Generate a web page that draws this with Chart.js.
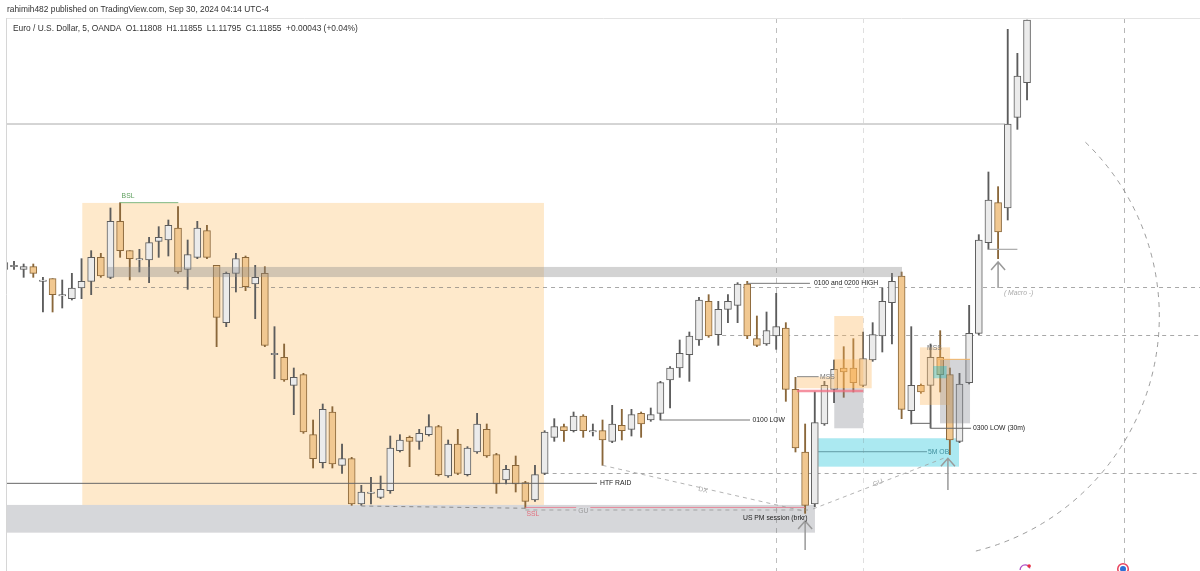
<!DOCTYPE html>
<html><head><meta charset="utf-8">
<script src="https://cdn.jsdelivr.net/npm/chart.js@4.4.1/dist/chart.umd.min.js"></script>
<style>
html,body{margin:0;padding:0;background:#fff;overflow:hidden}
#wrap{position:relative;width:1200px;height:571px}
canvas{position:absolute;left:0;top:0}
.hdr{position:absolute;font-family:"Liberation Sans",Arial,sans-serif;color:#333;white-space:pre;font-size:8.4px;line-height:10px}
</style></head><body>
<div id="wrap">
<canvas id="c" width="1200" height="571"></canvas>
<div class="hdr" style="left:7px;top:4px">rahimih482 published on TradingView.com, Sep 30, 2024 04:14 UTC-4</div>
<div class="hdr" style="left:13px;top:23px">Euro / U.S. Dollar, 5, OANDA  O1.11808  H1.11855  L1.11795  C1.11855  +0.00043 (+0.04%)</div>
</div>
<script>
// ---- data: EUR/USD 5m candles (index = bar number) ----
const opens = [1.11668,1.11670,1.11668,1.11670,1.11659,1.11661,1.11648,1.11646,1.11654,1.11659,
1.11677,1.11662,1.11704,1.11682,1.11675,1.11675,1.11689,1.11690,1.11699,1.11668,
1.11677,1.11697,1.11671,1.11628,1.11665,1.11677,1.11657,1.11665,1.11604,1.11602,
1.11581,1.11589,1.11544,1.11523,1.11561,1.11521,1.11526,1.11492,1.11500,1.11497,
1.11502,1.11532,1.11542,1.11539,1.11544,1.11550,1.11513,1.11537,1.11514,1.11531,
1.11548,1.11529,1.11510,1.11521,1.11508,1.11495,1.11515,1.11542,1.11550,1.11547,
1.11558,1.11546,1.11547,1.11539,1.11551,1.11548,1.11560,1.11555,1.11560,1.11585,
1.11594,1.11604,1.11615,1.11644,1.11619,1.11638,1.11641,1.11657,1.11616,1.11612,
1.11618,1.11624,1.11578,1.11531,1.11492,1.11552,1.11578,1.11594,1.11594,1.11581,
1.11600,1.11618,1.11643,1.11663,1.11562,1.11581,1.11581,1.11602,1.11589,1.11539,
1.11583,1.11620,1.11688,1.11718,1.11714,1.11782,1.11808];
const highs = [1.11676,1.11674,1.11672,1.11672,1.11662,1.11661,1.11660,1.11665,1.11676,1.11682,
1.11680,1.11714,1.11718,1.11682,1.11683,1.11692,1.11700,1.11705,1.11715,1.11690,
1.11704,1.11701,1.11671,1.11666,1.11680,1.11678,1.11671,1.11670,1.11625,1.11612,
1.11594,1.11590,1.11555,1.11567,1.11565,1.11537,1.11527,1.11506,1.11512,1.11513,
1.11543,1.11544,1.11543,1.11548,1.11559,1.11551,1.11540,1.11548,1.11535,1.11560,
1.11552,1.11530,1.11521,1.11528,1.11509,1.11521,1.11547,1.11556,1.11552,1.11561,
1.11559,1.11552,1.11555,1.11566,1.11563,1.11563,1.11561,1.11564,1.11584,1.11595,
1.11615,1.11621,1.11647,1.11649,1.11644,1.11649,1.11658,1.11659,1.11633,1.11636,
1.11650,1.11628,1.11587,1.11552,1.11576,1.11584,1.11600,1.11610,1.11616,1.11621,
1.11628,1.11654,1.11665,1.11666,1.11625,1.11582,1.11612,1.11622,1.11594,1.11590,
1.11641,1.11694,1.11741,1.11730,1.11848,1.11830,1.11855];
const lows = [1.11664,1.11668,1.11662,1.11662,1.11636,1.11636,1.11639,1.11645,1.11646,1.11649,
1.11662,1.11661,1.11677,1.11660,1.11666,1.11658,1.11677,1.11678,1.11665,1.11653,
1.11676,1.11676,1.11610,1.11625,1.11651,1.11652,1.11631,1.11610,1.11586,1.11584,
1.11559,1.11545,1.11519,1.11519,1.11519,1.11515,1.11491,1.11491,1.11492,1.11496,
1.11500,1.11531,1.11520,1.11533,1.11543,1.11513,1.11512,1.11514,1.11513,1.11530,
1.11527,1.11500,1.11507,1.11501,1.11489,1.11494,1.11514,1.11539,1.11539,1.11546,
1.11542,1.11543,1.11521,1.11538,1.11540,1.11543,1.11542,1.11554,1.11555,1.11564,
1.11587,1.11584,1.11611,1.11617,1.11611,1.11628,1.11628,1.11616,1.11610,1.11611,
1.11608,1.11569,1.11531,1.11485,1.11490,1.11551,1.11568,1.11572,1.11576,1.11580,
1.11599,1.11606,1.11612,1.11556,1.11552,1.11575,1.11549,1.11576,1.11529,1.11538,
1.11582,1.11619,1.11683,1.11676,1.11705,1.11773,1.11795];
const closes = [1.11673,1.11671,1.11670,1.11665,1.11660,1.11649,1.11649,1.11654,1.11659,1.11677,
1.11663,1.11704,1.11682,1.11676,1.11676,1.11688,1.11692,1.11701,1.11666,1.11679,
1.11699,1.11677,1.11632,1.11665,1.11676,1.11655,1.11662,1.11611,1.11605,1.11585,
1.11587,1.11546,1.11526,1.11563,1.11522,1.11526,1.11492,1.11501,1.11501,1.11503,
1.11534,1.11540,1.11539,1.11545,1.11550,1.11514,1.11537,1.11515,1.11534,1.11552,
1.11528,1.11507,1.11518,1.11507,1.11494,1.11514,1.11546,1.11550,1.11547,1.11558,
1.11547,1.11547,1.11540,1.11552,1.11547,1.11559,1.11552,1.11559,1.11583,1.11594,
1.11605,1.11618,1.11645,1.11618,1.11638,1.11644,1.11657,1.11618,1.11611,1.11622,
1.11625,1.11578,1.11534,1.11491,1.11553,1.11581,1.11593,1.11591,1.11583,1.11601,
1.11619,1.11644,1.11659,1.11563,1.11581,1.11576,1.11602,1.11589,1.11540,1.11582,
1.11620,1.11690,1.11720,1.11696,1.11777,1.11813,1.11855];
const bars = opens.map((_, i) => i);

// ---- drawings (in bar-index / price coordinates) ----
const rangeBox   = {x0: 8.08,  x1: 55.93, lo: 1.114913, hi: 1.117178};
const pmBand     = {x0: -2,    x1: 84.02, lo: 1.114705, hi: 1.114913};
const obBox      = {x0: 84.37, x1: 98.95, lo: 1.115200, hi: 1.115413, mid: 1.115312, midEnd: 95.63};
const highBand   = {x0: 10.7,  x1: 93.04, lo: 1.116622, hi: 1.116698};
const mssBoxes = [
  {x0: 86.02, x1: 89.03, lo: 1.115788, hi: 1.116330, kind: 'orange'},
  {x0: 86.02, x1: 89.90, lo: 1.115788, hi: 1.116005, kind: 'orange'},
  {x0: 82.16, x1: 86.02, lo: 1.115788, hi: 1.115875, kind: 'orange'},
  {x0: 86.02, x1: 89.03, lo: 1.115488, hi: 1.115788, kind: 'gray'},
  {x0: 94.90, x1: 98.02, lo: 1.115663, hi: 1.116095, kind: 'orange'},
  {x0: 96.98, x1: 100.09, lo: 1.115525, hi: 1.116005, kind: 'gray'},
  {x0: 96.28, x1: 97.67, lo: 1.115863, hi: 1.115955, kind: 'teal'}
];
const vDashed = [{x: 80, a: 0.45}, {x: 89, a: 0.22}, {x: 116, a: 0.5}];
const hDashed = [
  {x0: 9.4,  x1: 130, y: 1.116545},
  {x0: 74.4, x1: 130, y: 1.116191},
  {x0: 56.0, x1: 130, y: 1.115156}
];
const solidLines = [
  {pts: [[-2, 1.115075], [61.43, 1.115075]], color: '#666', w: 1},
  {pts: [[-2, 1.11777], [103.72, 1.11777]], color: '#aaa', w: 1},
  {pts: [[12, 1.11718], [18.03, 1.11718]], color: '#7fb77f', w: 1},
  {pts: [[77, 1.116575], [83.5, 1.116575]], color: '#777', w: 1},
  {pts: [[68, 1.11555], [77.29, 1.11555]], color: '#777', w: 1},
  {pts: [[82.16, 1.115875], [84.4, 1.115875]], color: '#888', w: 1},
  {pts: [[82.16, 1.115768], [89.03, 1.115768]], color: 'rgba(242,110,130,0.75)', w: 2.5},
  {pts: [[54, 1.114894], [83, 1.114894]], color: 'rgba(235,120,140,0.8)', w: 1},
  {pts: [[96.64, 1.116005], [100.09, 1.116005]], color: '#f0b266', w: 1},
  {pts: [[94, 1.115525], [96, 1.115525], [96, 1.115488], [100.2, 1.115488]], color: '#666', w: 1},
  {pts: [[102, 1.11683], [105, 1.11683]], color: '#aaa', w: 1.2}
];
const dashedDiag = [
  {pts: [[37, 1.114905], [54, 1.114888]], color: 'rgba(120,120,120,0.8)'},
  {pts: [[54, 1.114875], [83.3, 1.114875]], color: 'rgba(150,150,150,0.8)'},
  {pts: [[62, 1.11521], [82.78, 1.114868]], color: 'rgba(160,160,160,0.8)', name: 'dx'},
  {pts: [[83.82, 1.114883], [97.7, 1.115273]], color: 'rgba(160,160,160,0.8)', name: 'gu'}
];
const arrows = [
  {x: 83,    tip: 1.114793, tail: 1.114575},
  {x: 97.8,  tip: 1.115263, tail: 1.115025},
  {x: 103,   tip: 1.116735, tail: 1.116540}
];
const arc = {x: 94.63, y: 1.116328, rx: 25.08, a0: -46, a1: 76};
const labels = [
  {t: 'BSL', x: 12.82, y: 1.11723, c: '#5c9e5c', align: 'center'},
  {t: 'HTF RAID', x: 61.74, y: 1.115077, c: '#222'},
  {t: 'SSL', x: 54.79, y: 1.114845, c: '#e2707e', align: 'center'},
  {t: 'GU', x: 60, y: 1.114868, c: '#9a9a9a', align: 'center', bg: true},
  {t: 'DX', x: 72.41, y: 1.115025, c: '#aaa', align: 'center', rot: 'dx'},
  {t: 'GU', x: 90.55, y: 1.115078, c: '#aaa', align: 'center', rot: 'gu'},
  {t: '0100 and 0200 HIGH', x: 83.92, y: 1.116575, c: '#222'},
  {t: '0100 LOW', x: 77.55, y: 1.11555, c: '#222'},
  {t: 'US PM session (brkr)', x: 76.56, y: 1.114815, c: '#222'},
  {t: 'MSS', x: 84.54, y: 1.115875, c: '#777'},
  {t: 'MSS', x: 95.63, y: 1.11609, c: '#777'},
  {t: '5M OB', x: 95.74, y: 1.115312, c: '#3f8f9c'},
  {t: '0300 LOW (30m)', x: 100.4, y: 1.115488, c: '#222'},
  {t: '( Macro -)', x: 103.6, y: 1.116503, c: '#aaa', italic: true}
];
const icons = [{x: 105.8, y: 1.114448, kind: 'a'}, {x: 115.95, y: 1.114448, kind: 'b'}];

const BULL = {fill: '#ebebeb', line: '#5c5c5c'};
const BEAR = {fill: '#f1c891', line: '#8a673a'};
const isBull = i => closes[i] >= opens[i];

const FONT = '"Liberation Sans", Arial, sans-serif';

function drawDrawings(chart, layer) {
  const ctx = chart.ctx, X = chart.scales.x, Y = chart.scales.y, A = chart.chartArea;
  const px = v => X.getPixelForValue(v), py = v => Y.getPixelForValue(v);
  const rect = (b, fill) => {
    const x0 = Math.max(px(b.x0), A.left), x1 = Math.min(px(b.x1), A.right);
    ctx.fillStyle = fill; ctx.fillRect(x0, py(b.hi), x1 - x0, py(b.lo) - py(b.hi));
  };
  const poly = (pts, color, w, dash) => {
    ctx.beginPath();
    pts.forEach((p, k) => { const x = Math.max(Math.min(px(p[0]), A.right), A.left); const y = py(p[1]); k ? ctx.lineTo(x, y) : ctx.moveTo(x, y); });
    ctx.strokeStyle = color; ctx.lineWidth = w; ctx.setLineDash(dash || []); ctx.stroke(); ctx.setLineDash([]);
  };
  ctx.save();
  if (layer === 'under') {
    rect(rangeBox, 'rgba(251,192,105,0.35)');
    rect(pmBand, 'rgba(120,123,134,0.30)');
    rect(obBox, 'rgba(0,188,212,0.33)');
    vDashed.forEach(v => {
      const x = Math.round(px(v.x)) + 0.5;
      ctx.beginPath(); ctx.moveTo(x, A.top); ctx.lineTo(x, A.bottom);
      ctx.strokeStyle = 'rgba(110,110,110,' + v.a + ')'; ctx.lineWidth = 1; ctx.setLineDash([5, 5]); ctx.stroke(); ctx.setLineDash([]);
    });
    hDashed.forEach(h => {
      const y = Math.round(py(h.y)) + 0.5;
      ctx.beginPath(); ctx.moveTo(px(h.x0), y); ctx.lineTo(Math.min(px(h.x1), A.right), y);
      ctx.strokeStyle = 'rgba(110,110,110,0.6)'; ctx.lineWidth = 1; ctx.setLineDash([4, 4]); ctx.stroke(); ctx.setLineDash([]);
    });
    poly([[obBox.x0, obBox.mid], [obBox.midEnd, obBox.mid]], '#5f9aa5', 1);
  } else {
    rect(highBand, 'rgba(140,140,140,0.38)');
    mssBoxes.forEach(b => rect(b, b.kind === 'orange' ? 'rgba(251,180,90,0.35)' : b.kind === 'gray' ? 'rgba(120,123,134,0.32)' : 'rgba(0,188,212,0.35)'));
    solidLines.forEach(l => poly(l.pts, l.color, l.w));
    const angles = {};
    dashedDiag.forEach(l => {
      poly(l.pts, l.color, 1, [4, 4]);
      if (l.name) angles[l.name] = Math.atan2(py(l.pts[1][1]) - py(l.pts[0][1]), px(l.pts[1][0]) - px(l.pts[0][0]));
    });
    arrows.forEach(a => {
      const x = px(a.x), t = py(a.tip), b = py(a.tail);
      ctx.strokeStyle = '#9a9a9a'; ctx.lineWidth = 1.5;
      ctx.beginPath(); ctx.moveTo(x, b); ctx.lineTo(x, t);
      ctx.moveTo(x - 7, t + 8); ctx.lineTo(x, t); ctx.lineTo(x + 7, t + 8); ctx.stroke();
    });
    // dashed arc
    const cx = px(arc.x), cy = py(arc.y), r = px(arc.x + arc.rx) - cx;
    ctx.beginPath(); ctx.arc(cx, cy, r, arc.a0 * Math.PI / 180, arc.a1 * Math.PI / 180);
    ctx.strokeStyle = 'rgba(140,140,140,0.85)'; ctx.lineWidth = 1; ctx.setLineDash([5, 5]); ctx.stroke(); ctx.setLineDash([]);
    // labels
    labels.forEach(l => {
      ctx.save();
      ctx.font = (l.italic ? 'italic ' : '') + '6.8px ' + FONT;
      ctx.fillStyle = l.c; ctx.textAlign = l.align || 'left'; ctx.textBaseline = 'middle';
      ctx.translate(px(l.x), py(l.y));
      if (l.rot) ctx.rotate(angles[l.rot]);
      if (l.bg) { const w = ctx.measureText(l.t).width; ctx.fillStyle = '#d8d9dd'; ctx.fillRect(-w / 2 - 2, -4, w + 4, 8); ctx.fillStyle = l.c; }
      ctx.fillText(l.t, 0, 0);
      ctx.restore();
    });
    // small icons at bottom edge
    icons.forEach(ic => {
      const x = px(ic.x), y = py(ic.y);
      if (ic.kind === 'b') {
        ctx.beginPath(); ctx.arc(x, y + 2, 6, 0, Math.PI * 2); ctx.fillStyle = '#e8405a'; ctx.fill();
        ctx.beginPath(); ctx.arc(x, y + 2, 4.5, 0, Math.PI * 2); ctx.fillStyle = '#fff'; ctx.fill();
        ctx.beginPath(); ctx.arc(x, y + 2, 3, 0, Math.PI * 2); ctx.fillStyle = '#2d6fd6'; ctx.fill();
      } else {
        ctx.beginPath(); ctx.arc(x, y + 3, 5, Math.PI, Math.PI * 1.9); ctx.strokeStyle = '#b050c8'; ctx.lineWidth = 1.3; ctx.stroke();
        ctx.beginPath(); ctx.arc(x + 4, y - 1, 1.8, 0, Math.PI * 2); ctx.fillStyle = '#e83040'; ctx.fill();
      }
    });
    // panel frame
    ctx.strokeStyle = '#e3e3e3'; ctx.lineWidth = 1;
    ctx.beginPath(); ctx.moveTo(A.left - 0.5, A.top + 0.5); ctx.lineTo(A.right, A.top + 0.5); ctx.stroke();
    ctx.strokeStyle = '#d6d6d6';
    ctx.beginPath(); ctx.moveTo(A.left - 0.5, A.top); ctx.lineTo(A.left - 0.5, A.bottom); ctx.stroke();
  }
  ctx.restore();
}

const drawingsPlugin = {
  id: 'drawings',
  beforeDatasetsDraw(chart) { drawDrawings(chart, 'under'); },
  afterDatasetsDraw(chart) { drawDrawings(chart, 'over'); }
};

const colorOf = (c, key) => (c.dataIndex === undefined ? BULL[key] : (isBull(c.dataIndex) ? BULL[key] : BEAR[key]));

new Chart(document.getElementById('c'), {
  type: 'bar',
  data: {
    datasets: [
      {
        label: 'wick', order: 2, grouped: false, barThickness: 1.2, borderWidth: 0,
        data: bars.map(i => ({x: i, y: [lows[i], highs[i]]})),
        backgroundColor: c => colorOf(c, 'line')
      },
      {
        label: 'body', order: 1, grouped: false, barThickness: 7, borderWidth: 1, borderSkipped: false,
        data: bars.map(i => ({x: i, y: [opens[i], closes[i]]})),
        backgroundColor: c => colorOf(c, 'fill'),
        borderColor: c => colorOf(c, 'line')
      }
    ]
  },
  options: {
    responsive: false, animation: false, devicePixelRatio: 1,
    layout: {padding: {left: 7, top: 18, right: 0, bottom: 0}},
    plugins: {legend: {display: false}, tooltip: {enabled: false}},
    scales: {
      x: {type: 'linear', min: 0.2747, max: 123.928, offset: false, display: false},
      y: {type: 'linear', min: 1.1144175, max: 1.118565, display: false, beginAtZero: false}
    }
  },
  plugins: [drawingsPlugin]
});
</script>
</body></html>
